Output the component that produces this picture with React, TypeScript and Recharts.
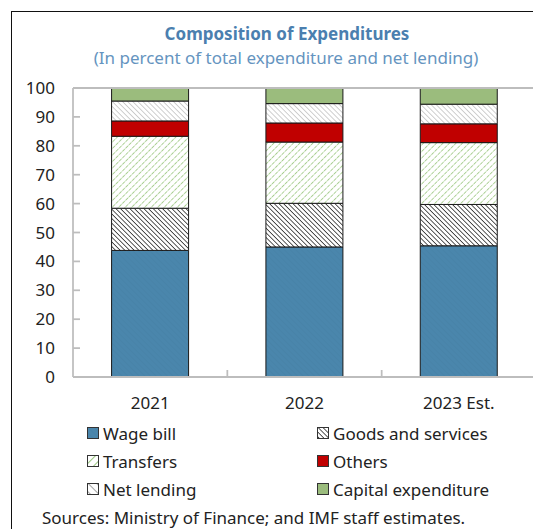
import React from 'react';
import { BarChart, Bar, XAxis, YAxis, ReferenceLine } from 'recharts';

const categories = ['2021', '2022', '2023 Est.'];
const wageBill = [43.8, 45.0, 45.4];
const goodsServices = [14.6, 15.1, 14.3];
const transfers = [24.9, 21.2, 21.4];
const others = [5.3, 6.6, 6.5];
const netLending = [6.9, 6.7, 6.8];
const capitalExpenditure = [4.5, 5.4, 5.6];
const yTicks = [0, 10, 20, 30, 40, 50, 60, 70, 80, 90, 100];

const seriesNames = ['Wage bill', 'Goods and services', 'Transfers', 'Others', 'Net lending', 'Capital expenditure'];

const data = categories.map((c, i) => ({
  name: c,
  wage: wageBill[i],
  goods: goodsServices[i],
  transfers: transfers[i],
  others: others[i],
  net: netLending[i],
  capital: capitalExpenditure[i],
}));

const FONT = '"Noto Sans", sans-serif';
const AXIS = '#BDBDBD';
const TEXT = '#222';

const fills = {
  wage: 'url(#pWage)',
  goods: 'url(#pGoods)',
  transfers: 'url(#pTransfers)',
  others: '#C00000',
  net: 'url(#pNet)',
  capital: '#9BBC7D',
};

const legendFills = {
  ...fills,
  transfers: 'url(#lTransfers)',
  net: 'url(#lNet)',
  goods: 'url(#lGoods)',
};

const Patterns = () => (
  <defs>
    <pattern id="pWage" width="4" height="4" patternUnits="userSpaceOnUse" patternTransform="rotate(-45)">
      <rect width="4" height="4" fill="#4A86AC" />
      <line x1="0" y1="0" x2="0" y2="4" stroke="#4680A4" strokeWidth="1" />
    </pattern>
    <pattern id="pGoods" width="3.3" height="3.3" patternUnits="userSpaceOnUse" patternTransform="rotate(-45)">
      <rect width="3.3" height="3.3" fill="#fff" />
      <line x1="0" y1="0" x2="0" y2="3.3" stroke="#000" strokeWidth="1.3" />
    </pattern>
    <pattern id="pTransfers" width="4.6" height="4.6" patternUnits="userSpaceOnUse" patternTransform="rotate(45)">
      <rect width="4.6" height="4.6" fill="#fff" />
      <line x1="0" y1="0" x2="0" y2="4.6" stroke="#8CBF6C" strokeWidth="1.4" strokeDasharray="2.3 1" />
    </pattern>
    <pattern id="pNet" width="3.6" height="3.6" patternUnits="userSpaceOnUse" patternTransform="rotate(-45)">
      <rect width="3.6" height="3.6" fill="#fff" />
      <line x1="0" y1="0" x2="0" y2="3.6" stroke="#A8A8A8" strokeWidth="1.1" />
    </pattern>
    <pattern id="lTransfers" width="6" height="6" patternUnits="userSpaceOnUse" patternTransform="rotate(45)">
      <rect width="6" height="6" fill="#fff" />
      <line x1="0" y1="0" x2="0" y2="6" stroke="#7DB85A" strokeWidth="1.6" />
    </pattern>
    <pattern id="lNet" width="6" height="6" patternUnits="userSpaceOnUse" patternTransform="rotate(-45)">
      <rect width="6" height="6" fill="#fff" />
      <line x1="0" y1="0" x2="0" y2="6" stroke="#8A8A8A" strokeWidth="1.6" />
    </pattern>
    <pattern id="lGoods" width="3.4" height="3.4" patternUnits="userSpaceOnUse" patternTransform="rotate(-45)">
      <rect width="3.4" height="3.4" fill="#fff" />
      <line x1="0" y1="0" x2="0" y2="3.4" stroke="#000" strokeWidth="1.3" />
    </pattern>
  </defs>
);

const XTick = (props: any) => {
  const { x, y, payload, index, width } = props;
  const step = width / categories.length;
  return (
    <g>
      <text x={x} y={y + 20} dy="0.71em" textAnchor="middle" fontFamily={FONT} fontSize={17} fill={TEXT}>
        {payload.value}
      </text>
      {index < categories.length - 1 && (
        <line x1={payload.coordinate + step / 2} x2={payload.coordinate + step / 2} y1={y} y2={y - 7} stroke={AXIS} strokeWidth={1.75} />
      )}
    </g>
  );
};

const keys = ['wage', 'goods', 'transfers', 'others', 'net', 'capital'] as const;

const Swatch = ({ fill }: { fill: string }) => (
  <svg width="12" height="12" style={{ display: 'block' }}>
    <rect x="0.5" y="0.5" width="11" height="11" fill={fill} stroke="#333" strokeWidth="1" />
  </svg>
);

const legendRows = [
  [0, 1],
  [2, 3],
  [4, 5],
];

export default function App() {
  return (
    <div style={{ position: 'absolute', left: 0, top: 0, width: 533, height: 529, overflow: 'hidden', background: '#fff', fontFamily: FONT }}>
      <div style={{ position: 'absolute', left: 11, top: 11, width: 700, height: 700, borderLeft: '1.5px solid #111', borderTop: '1.5px solid #111' }} />
      <div style={{ position: 'absolute', left: 0, top: 23, width: 574, textAlign: 'center', fontSize: 17, fontWeight: 700, color: '#4B7FAF', lineHeight: '22px' }}>
        Composition of Expenditures
      </div>
      <div style={{ position: 'absolute', left: 0, top: 47, width: 572, textAlign: 'center', fontSize: 17, color: '#6594C0', lineHeight: '22px' }}>
        (In percent of total expenditure and net lending)
      </div>
      <div style={{ position: 'absolute', left: 0, top: 0 }}>
        <BarChart width={560} height={529} data={data} margin={{ top: 88, right: 24, left: 13, bottom: 122 }} barCategoryGap="25%">
          <Patterns />
          <ReferenceLine y={100} stroke={AXIS} strokeWidth={2} />
          <XAxis dataKey="name" height={30} axisLine={{ stroke: AXIS, strokeWidth: 2 }} tickLine={false} tickSize={0} tickMargin={0} tick={<XTick />} interval={0} />
          <YAxis
            width={60}
            domain={[0, 100]}
            ticks={yTicks}
            interval={0}
            axisLine={{ stroke: AXIS, strokeWidth: 1.75 }}
            tickLine={{ stroke: AXIS, strokeWidth: 1.75 }}
            tickSize={-7}
            tickMargin={25}
            tick={{ fontFamily: FONT, fontSize: 17, fill: TEXT }}
          />
          {keys.map((k, i) => (
            <Bar key={k} dataKey={k} name={seriesNames[i]} stackId="a" fill={fills[k]} stroke="#1a1a1a" strokeWidth={1} isAnimationActive={false} />
          ))}
        </BarChart>
      </div>
      {legendRows.map((row, r) => (
        <React.Fragment key={r}>
          {row.map((si, c) => (
            <div
              key={si}
              style={{
                position: 'absolute',
                left: c === 0 ? 87 : 317,
                top: 422 + r * 28,
                height: 22,
                display: 'flex',
                alignItems: 'center',
                fontSize: 17,
                color: TEXT,
                whiteSpace: 'nowrap',
              }}
            >
              <Swatch fill={legendFills[keys[si]]} />
              <span style={{ marginLeft: 4 }}>{seriesNames[si]}</span>
            </div>
          ))}
        </React.Fragment>
      ))}
      <div style={{ position: 'absolute', left: 42, top: 507, fontSize: 17, color: TEXT, lineHeight: '22px', whiteSpace: 'nowrap' }}>
        Sources: Ministry of Finance; and IMF staff estimates.
      </div>
    </div>
  );
}
